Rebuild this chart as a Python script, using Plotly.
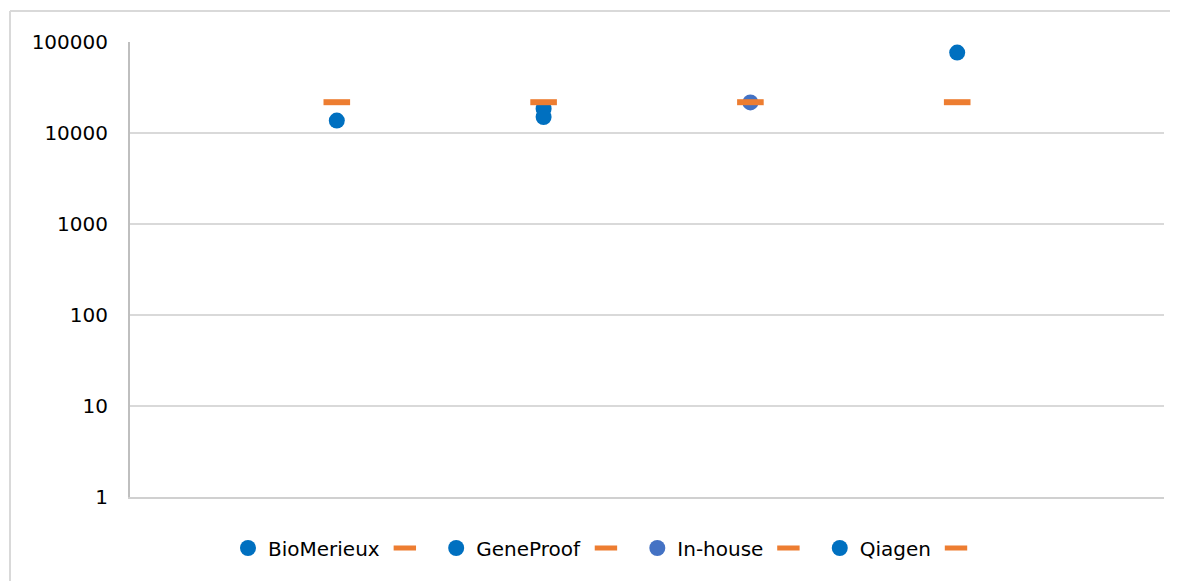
import plotly.graph_objects as go

series_names = ["BioMerieux", "GeneProof", "In-house", "Qiagen"]
series_x = [1, 2, 3, 4]
series_values = [
    [13700],
    [18500, 15000],
    [21700],
    [76500],
]
reference_values = [21800, 21800, 21800, 21800]
dot_colors = ["#0070C0", "#0070C0", "#4472C4", "#0070C0"]
orange = "#ED7D31"

y_tickvals = [1, 10, 100, 1000, 10000, 100000]
y_ticktext = ["1", "10", "100", "1000", "10000", "100000"]

fig = go.Figure()
for name, x, vals, col, ref in zip(series_names, series_x, series_values, dot_colors, reference_values):
    fig.add_trace(go.Scatter(
        x=[x] * len(vals), y=vals, mode="markers", name=name,
        marker=dict(symbol="circle", size=16, color=col),
    ))
    fig.add_trace(go.Scatter(
        x=[x], y=[ref], mode="markers", name=" ",
        marker=dict(symbol="line-ew", size=19, color=orange,
                    line=dict(color=orange, width=6)),
    ))

# page offset of 8px (default body margin) compensated
OFF = 8
W, H = 1178, 581
L = 130 - OFF
T = 42 - OFF
R = W - (1164 - OFF)
B = H - (497 - OFF)
pw, ph = W - L - R, H - T - B

def px_x(p):
    return (p - OFF - L) / pw

def px_y(p):
    return (H - B - (p - OFF)) / ph

fig.update_layout(
    width=W, height=H,
    margin=dict(l=L, r=R, t=T, b=B),
    paper_bgcolor="white", plot_bgcolor="white",
    font=dict(family="DejaVu Sans", size=20, color="#000000"),
    showlegend=True,
    legend=dict(
        orientation="h", x=px_x(228), xanchor="left",
        y=px_y(548), yanchor="middle",
        font=dict(family="DejaVu Sans", size=20, color="#000000"),
        itemsizing="trace",
    ),
    xaxis=dict(range=[0, 5], showgrid=False, zeroline=False,
               showticklabels=False, ticks="", showline=True,
               linecolor="#D0D0D0", linewidth=2),
    yaxis=dict(type="log", range=[0, 5], tickvals=y_tickvals, ticktext=y_ticktext,
               showgrid=True, gridcolor="#D9D9D9", gridwidth=2,
               showline=True, linecolor="#BFBFBF", linewidth=2,
               zeroline=False, ticks="", ticklabelstandoff=16),
    shapes=[
        dict(type="line", xref="paper", yref="paper",
             x0=px_x(10), x1=px_x(W + 20), y0=px_y(11), y1=px_y(11),
             line=dict(color="#D9D9D9", width=2)),
        dict(type="line", xref="paper", yref="paper",
             x0=px_x(10), x1=px_x(10), y0=px_y(11), y1=px_y(H + 20),
             line=dict(color="#D9D9D9", width=2)),
    ],
)

fig.write_html("out.html")
